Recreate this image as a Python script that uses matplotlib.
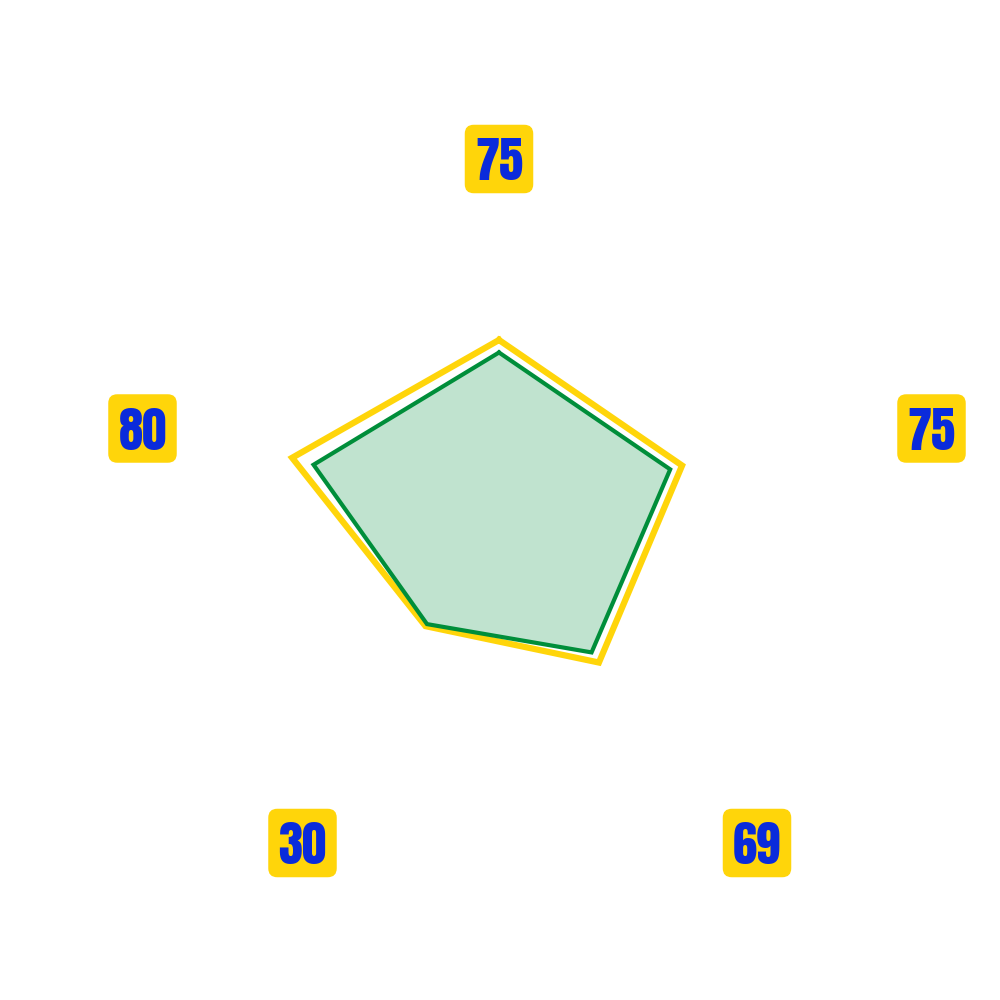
import numpy as np
import matplotlib
matplotlib.use("Agg")
import matplotlib.pyplot as plt
from matplotlib.patches import FancyBboxPatch

# 数据
axis_labels = ["75", "75", "69", "30", "80"]
series_outer = [74, 77, 68, 50, 87]   # 黄色
series_inner = [69, 72, 63, 49, 78]   # 绿色

# 标签中心位置 (figure fraction)
label_pos = [(0.499, 0.841), (0.9315, 0.5715), (0.757, 0.157), (0.3025, 0.157), (0.1425, 0.5715)]
box_w = 0.0685
box_h = 0.0685

yellow = "#FFD50A"
green = "#008E3A"
fill_green = "#C0E3CF"
blue = "#0A2BDB"

n = len(axis_labels)
theta = np.linspace(0, 2 * np.pi, n, endpoint=False)
theta_c = np.append(theta, theta[0])
outer = np.append(series_outer, series_outer[0])
inner = np.append(series_inner, series_inner[0])

fig = plt.figure(figsize=(10, 10), dpi=100)
ax = fig.add_axes([0.249, 0.225, 0.5, 0.5], projection="polar")
ax.set_theta_offset(np.pi / 2)
ax.set_theta_direction(-1)
ax.set_ylim(0, 100)

ax.plot(theta_c, outer, color=yellow, lw=4.5, solid_joinstyle="miter")
ax.fill(theta_c, inner, color=fill_green, lw=0)
ax.plot(theta_c, inner, color=green, lw=3, solid_joinstyle="miter")

ax.set_xticks([])
ax.set_yticks([])
ax.grid(False)
ax.spines["polar"].set_visible(False)
ax.patch.set_visible(False)

# 标签
for txt, (x, y) in zip(axis_labels, label_pos):
    box = FancyBboxPatch((x - box_w / 2, y - box_h / 2), box_w, box_h,
                         boxstyle="round,pad=0,rounding_size=0.009",
                         transform=fig.transFigure, fc=yellow, ec="none")
    fig.patches.append(box)
    fig.text(x, y - 0.0215, txt, ha="center", va="baseline", fontsize=35,
             family=["Anton", "DejaVu Sans"], color=blue)

fig.savefig("out.png", dpi=100, facecolor="white")
